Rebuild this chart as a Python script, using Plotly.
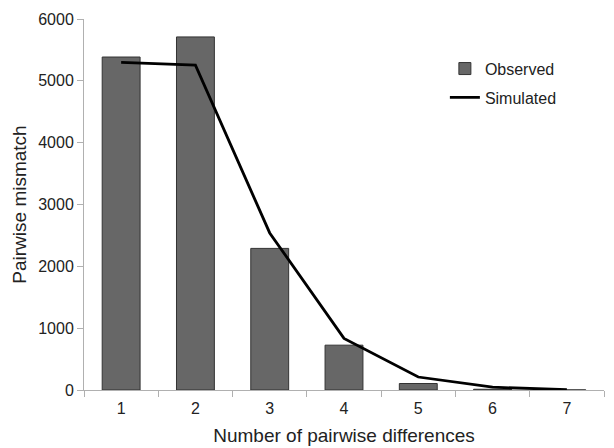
import plotly.graph_objects as go

categories = ["1", "2", "3", "4", "5", "6", "7"]
observed = [5385, 5710, 2290, 725, 105, 12, 2]
simulated = [5300, 5255, 2540, 835, 210, 45, 5]
y_ticks = [0, 1000, 2000, 3000, 4000, 5000, 6000]

font_family = "Liberation Sans, Arial, sans-serif"

fig = go.Figure()
fig.add_trace(go.Bar(
    x=categories, y=observed, name="Observed", legendgroup="a",
    marker=dict(color="#676767", line=dict(color="#333333", width=1)),
))
fig.add_trace(go.Scatter(
    x=categories, y=simulated, name="Simulated", mode="lines", legendgroup="b",
    line=dict(color="#000000", width=2.8),
))

fig.update_layout(
    width=614, height=448,
    margin=dict(l=84, r=10, t=19, b=58),
    paper_bgcolor="white", plot_bgcolor="white",
    font=dict(family=font_family, color="#222222", size=16),
    bargap=0.49,
    showlegend=True,
    legend=dict(x=0.694, y=0.912, xanchor="left", yanchor="top",
                bgcolor="rgba(0,0,0,0)", font=dict(size=16),
                itemwidth=30, tracegroupgap=5, traceorder="grouped"),
)
fig.update_xaxes(
    type="category", range=[-0.5, 6.5], automargin=False,
    showline=True, linecolor="#b0b0b0", linewidth=1,
    ticks="outside", ticklen=6, tickcolor="#b0b0b0", tickson="boundaries",
    showgrid=False, zeroline=False, ticklabelstandoff=4,
    title=dict(text="Number of pairwise differences", font=dict(size=19), standoff=12),
    tickfont=dict(size=16),
)
fig.update_yaxes(
    range=[0, 6000], tickvals=y_ticks, automargin=False,
    showline=True, linecolor="#b0b0b0", linewidth=1,
    ticks="outside", ticklen=6, tickcolor="#b0b0b0",
    showgrid=False, zeroline=False,
    title=dict(text="Pairwise mismatch", font=dict(size=19), standoff=6),
    tickfont=dict(size=16),
)

fig.write_html("out.html")
